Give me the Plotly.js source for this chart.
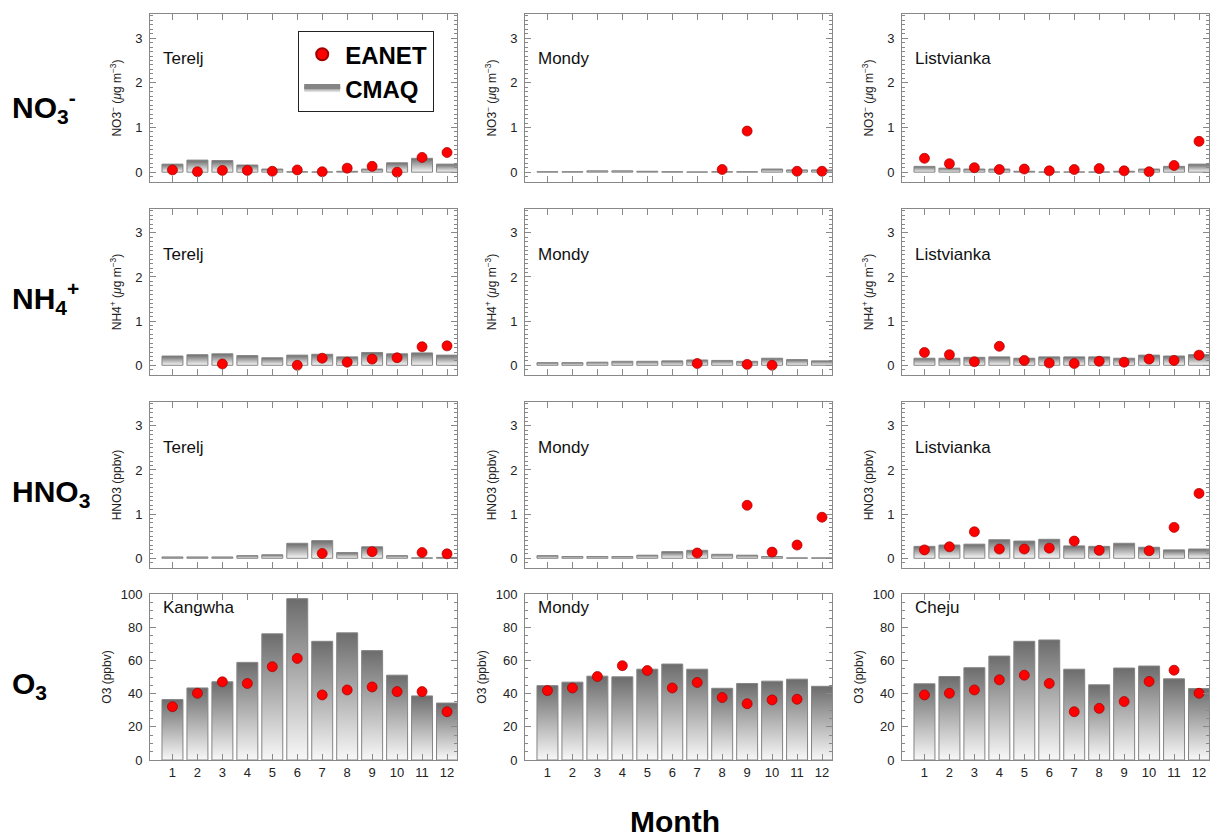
<!DOCTYPE html>
<html><head><meta charset="utf-8">
<script src="https://cdn.plot.ly/plotly-3.0.1.min.js"></script>
<style>body{margin:0;background:#fff}#chart{width:1214px;height:837px}</style>
</head><body><div id="chart"></div><script>
// ---------- DATA ----------
const months = [1,2,3,4,5,6,7,8,9,10,11,12];
const monthLabels = ['1','2','3','4','5','6','7','8','9','10','11','12'];
const stationsTop = ['Terelj','Mondy','Listvianka'];
const stationsO3 = ['Kangwha','Mondy','Cheju'];
const rowLabels = ['NO<sub>3</sub><sup>-</sup>','NH<sub>4</sub><sup>+</sup>','HNO<sub>3</sub>','O<sub>3</sub>'];
const yTitles = ['NO3<sup>\u2212</sup> (<i>\u03bc</i>g m<sup>\u22123</sup>)','NH4<sup>+</sup> (<i>\u03bc</i>g m<sup>\u22123</sup>)','HNO3 (ppbv)','O3 (ppbv)'];

// NO3-
const no3_terelj_cmaq  = [0.18,0.27,0.26,0.16,0.07,0.01,0.005,0.02,0.07,0.21,0.31,0.18];
const no3_terelj_eanet = [0.05,0.01,0.04,0.04,0.02,0.05,0.01,0.09,0.13,0.00,0.33,0.44];
const no3_mondy_cmaq   = [0.01,0.01,0.03,0.03,0.02,0.01,0.005,0.01,0.01,0.07,0.05,0.05];
const no3_mondy_eanet  = [null,null,null,null,null,null,null,0.06,0.92,null,0.02,0.02];
const no3_listv_cmaq   = [0.13,0.09,0.07,0.07,0.02,0.005,0.005,0.005,0.02,0.07,0.13,0.18];
const no3_listv_eanet  = [0.31,0.19,0.10,0.06,0.07,0.03,0.06,0.08,0.03,0.01,0.15,0.69];
// NH4+
const nh4_terelj_cmaq  = [0.21,0.24,0.26,0.22,0.17,0.23,0.25,0.19,0.29,0.26,0.28,0.23];
const nh4_terelj_eanet = [null,null,0.03,null,null,0.00,0.16,0.07,0.14,0.17,0.42,0.44];
const nh4_mondy_cmaq   = [0.06,0.06,0.07,0.09,0.09,0.10,0.12,0.11,0.09,0.16,0.13,0.10];
const nh4_mondy_eanet  = [null,null,null,null,null,null,0.04,null,0.02,0.00,null,null];
const nh4_listv_cmaq   = [0.16,0.16,0.18,0.19,0.16,0.19,0.19,0.19,0.16,0.23,0.21,0.24];
const nh4_listv_eanet  = [0.29,0.24,0.08,0.43,0.11,0.05,0.04,0.09,0.07,0.14,0.11,0.23];
// HNO3
const hno3_terelj_cmaq  = [0.03,0.03,0.03,0.06,0.08,0.34,0.40,0.13,0.26,0.06,0.01,0.02];
const hno3_terelj_eanet = [null,null,null,null,null,null,0.11,null,0.15,null,0.13,0.10];
const hno3_mondy_cmaq   = [0.06,0.04,0.04,0.04,0.07,0.15,0.18,0.09,0.07,0.04,0.01,0.01];
const hno3_mondy_eanet  = [null,null,null,null,null,null,0.12,null,1.20,0.14,0.30,0.93];
const hno3_listv_cmaq   = [0.27,0.30,0.32,0.42,0.39,0.43,0.28,0.27,0.34,0.25,0.19,0.21];
const hno3_listv_eanet  = [0.19,0.26,0.60,0.21,0.21,0.23,0.39,0.18,null,0.17,0.70,1.47];
// O3
const o3_kangwha_cmaq  = [36.4,43.4,47.1,58.8,76.0,97.2,71.5,76.6,65.9,51.1,38.6,34.3];
const o3_kangwha_eanet = [32.1,40.2,47.1,46.1,56.2,61.2,39.2,42.2,44.0,41.2,41.2,29.1];
const o3_mondy_cmaq    = [44.8,46.9,50.5,50.1,54.7,57.8,54.7,43.2,46.1,47.5,48.7,44.4];
const o3_mondy_eanet   = [41.8,43.4,50.3,56.8,53.9,43.4,46.7,37.6,33.9,36.2,36.6,null];
const o3_cheju_cmaq    = [45.9,50.3,55.6,62.6,71.5,72.3,54.7,45.3,55.4,56.6,48.9,43.0];
const o3_cheju_eanet   = [39.2,40.2,42.2,48.3,51.1,46.1,29.1,31.1,35.2,47.3,54.1,40.2];

// ---------- LAYOUT GEOMETRY ----------
const W = 1214, H = 837;
const colPx = [[150,457],[525,832],[902,1209]];
const rowPx = [[14,182],[209,375],[402,568],[594,760]];
const FONT = 'Liberation Sans, Arial, Helvetica, sans-serif';

const panels = [
  [no3_terelj_cmaq,no3_terelj_eanet],[no3_mondy_cmaq,no3_mondy_eanet],[no3_listv_cmaq,no3_listv_eanet],
  [nh4_terelj_cmaq,nh4_terelj_eanet],[nh4_mondy_cmaq,nh4_mondy_eanet],[nh4_listv_cmaq,nh4_listv_eanet],
  [hno3_terelj_cmaq,hno3_terelj_eanet],[hno3_mondy_cmaq,hno3_mondy_eanet],[hno3_listv_cmaq,hno3_listv_eanet],
  [o3_kangwha_cmaq,o3_kangwha_eanet],[o3_mondy_cmaq,o3_mondy_eanet],[o3_cheju_cmaq,o3_cheju_eanet]
];

const traces = [];
const layout = {
  width: W, height: H, margin:{l:0,r:0,t:0,b:0},
  paper_bgcolor:'#fff', plot_bgcolor:'#fff',
  font:{family:FONT, color:'#111'},
  showlegend:true,
  legend:{x:298/W, y:1-31/H, xanchor:'left', yanchor:'top', bgcolor:'#fff',
          bordercolor:'#222', borderwidth:1.2, font:{size:24, family:FONT, color:'#000', weight:'bold'},
          itemwidth:36, tracegroupgap:0, itemsizing:'constant'},
  annotations: [], 
};

const gradient = {type:'vertical', colorscale:[[0,'#f8f8f8'],[1,'#6c6c6c']]};
const HW = 0.42;

panels.forEach((p, k) => {
  const r = Math.floor(k/3), c = k%3;
  const n = k+1;
  const xa = 'x'+(n===1?'':n), ya = 'y'+(n===1?'':n);
  const xKey = 'xaxis'+(n===1?'':n), yKey = 'yaxis'+(n===1?'':n);
  const [cmaq, eanet] = p;
  cmaq.forEach((v,i) => {
    const m = months[i];
    traces.push({type:'scatter', mode:'lines', x:[m-HW,m-HW,m+HW,m+HW,m-HW], y:[0,v,v,0,0],
      fill:'toself', fillgradient:gradient, fillcolor:'#aaa',
      line:{color:'#858585', width:1}, xaxis:xa, yaxis:ya, hoverinfo:'skip',
      name:'CMAQ', showlegend:(k===0 && i===0), legendrank:2});
  });
  traces.push({type:'scatter', mode:'markers', x:months, y:eanet, xaxis:xa, yaxis:ya,
    marker:{color:'#ff0000', size:10, line:{color:'#a00000', width:0.7}},
    name:'EANET', showlegend:(k===0), legendrank:1});

  const isO3 = r===3;
  layout[xKey] = {
    domain:[colPx[c][0]/W, colPx[c][1]/W], anchor:ya, range:[0.1,12.4],
    tickvals:months, ticktext:monthLabels, showticklabels:isO3,
    ticks:'inside', ticklen:6, tickcolor:'#888', tickwidth:1,
    showline:true, mirror:'ticks', linecolor:'#888', linewidth:1,
    showgrid:false, zeroline:false, fixedrange:true,
    tickfont:{size:13, family:FONT, color:'#222'}
  };
  layout[yKey] = {
    domain:[1-rowPx[r][1]/H, 1-rowPx[r][0]/H], anchor:xa,
    range: isO3 ? [0,100] : [-0.22,3.54],
    tickvals: isO3 ? [0,20,40,60,80,100] : [0,1,2,3],
    ticks:'inside', ticklen:6, tickcolor:'#888', tickwidth:1,
    minor:{ticks:'inside', ticklen:3, dtick: isO3 ? 5 : 0.1, tickcolor:'#888', showgrid:false},
    showline:true, mirror:'ticks', linecolor:'#888', linewidth:1,
    showgrid:false, zeroline:false, fixedrange:true, ticklabelstandoff:4,
    tickfont:{size:13, family:FONT, color:'#222'},
    title:{text:yTitles[r], font:{size:12, family:FONT, color:'#222'}, standoff: isO3 ? 6 : 10}
  };
  // station label
  const st = isO3 ? stationsO3[c] : stationsTop[c];
  const yOff = isO3 ? 13 : 45;
  layout.annotations.push({xref:'paper', yref:'paper', x:(colPx[c][0]+11)/W, y:1-(rowPx[r][0]+yOff)/H,
    xanchor:'left', yanchor:'middle', showarrow:false, text:st, font:{size:17, family:FONT, color:'#111'}});
});

const rowLabelY = [107, 298, 493, 685];
rowLabels.forEach((t,r) => {
  layout.annotations.push({xref:'paper', yref:'paper', x:10/W, y:1-rowLabelY[r]/H, xanchor:'left', yanchor:'middle',
    showarrow:false, text:'<b>'+t+'</b>', font:{size:30, family:FONT, color:'#000'}});
});
layout.annotations.push({xref:'paper', yref:'paper', x:675/W, y:1-821/H, xanchor:'center', yanchor:'middle',
  showarrow:false, text:'<b>Month</b>', font:{size:30, family:FONT, color:'#000'}});

Plotly.newPlot('chart', traces, layout, {staticPlot:true, displayModeBar:false});
</script></body></html>
